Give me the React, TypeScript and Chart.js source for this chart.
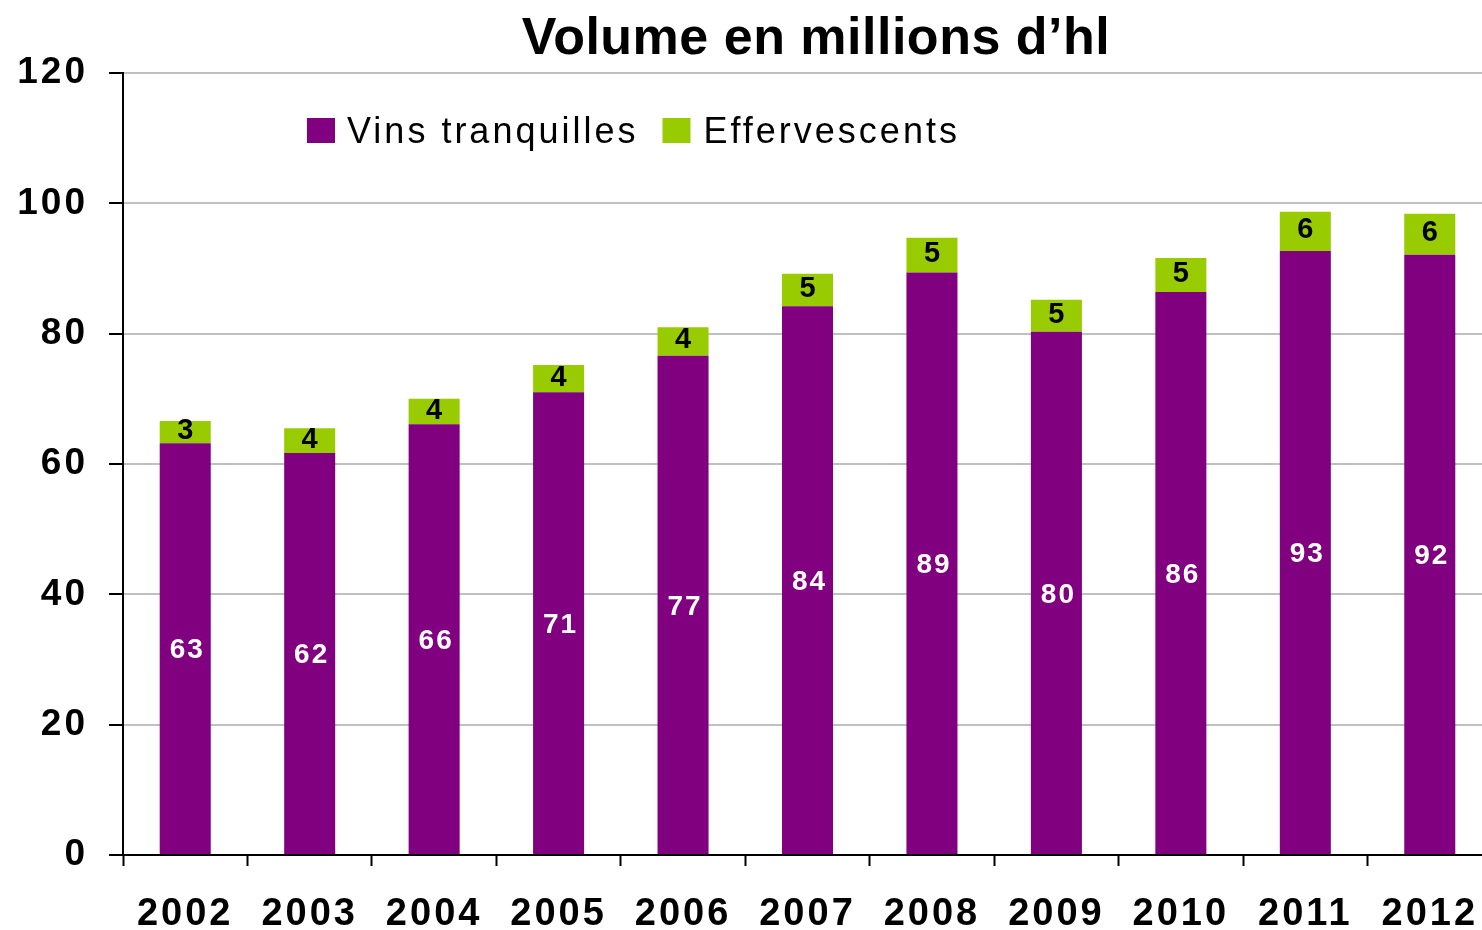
import React, { useEffect, useRef } from "react";
import { Chart, registerables } from "chart.js";

Chart.register(...registerables);

const categories = ["2002", "2003", "2004", "2005", "2006", "2007", "2008", "2009", "2010", "2011", "2012"];
const vinsTranquilles = [63.2, 61.7, 66.1, 71.0, 76.6, 84.2, 89.4, 80.3, 86.4, 92.7, 92.1];
const effervescents = [3.4, 3.8, 3.9, 4.2, 4.4, 5.0, 5.3, 4.9, 5.2, 6.0, 6.3];
const seriesNames = ["Vins tranquilles", "Effervescents"];
const titleText = "Volume en millions d\u2019hl";
const yTicks = [0, 20, 40, 60, 80, 100, 120];

const PURPLE = "#800080";
const GREEN = "#99CC00";
const FAMILY = '"Liberation Sans", Arial, sans-serif';

const spacingPlugin = {
  id: "spacing",
  beforeDraw(chart: any) {
    const ctx = chart.ctx;
    ctx.letterSpacing = "3px";
  },
};

const decorPlugin = {
  id: "decor",
  afterDraw(chart: any) {
    const ctx = chart.ctx;
    ctx.save();
    // title
    ctx.letterSpacing = "0.5px";
    ctx.font = `bold 52px ${FAMILY}`;
    ctx.fillStyle = "#000";
    ctx.textAlign = "center";
    ctx.textBaseline = "alphabetic";
    ctx.fillText(titleText, 816, 54);

    // legend
    ctx.letterSpacing = "3px";
    ctx.font = `36px ${FAMILY}`;
    ctx.textAlign = "left";
    const colors = [PURPLE, GREEN];
    let x = 307;
    seriesNames.forEach((name, i) => {
      ctx.fillStyle = colors[i];
      ctx.fillRect(x, 118, 28, 25);
      ctx.fillStyle = "#000";
      const tx = x + (i === 0 ? 40 : 41);
      ctx.fillText(name, tx, 143);
      const w = ctx.measureText(name).width;
      x = tx + w + 24;
    });

    // data labels
    chart.data.datasets.forEach((ds: any, di: number) => {
      const meta = chart.getDatasetMeta(di);
      meta.data.forEach((bar: any, i: number) => {
        const v = ds.data[i];
        const top = Math.min(bar.y, bar.base);
        const bottom = Math.max(bar.y, bar.base);
        const cy = (top + bottom) / 2;
        ctx.textAlign = "center";
        ctx.textBaseline = "middle";
        if (di === 0) {
          ctx.letterSpacing = "2px";
          ctx.font = `bold 28px ${FAMILY}`;
          ctx.fillStyle = "#fff";
          ctx.fillText(String(Math.round(v)), bar.x + 2, cy + 2);
        } else {
          ctx.letterSpacing = "0px";
          ctx.font = `bold 29px ${FAMILY}`;
          ctx.fillStyle = "#000";
          ctx.fillText(String(Math.round(v)), bar.x, cy - 1);
        }
      });
    });
    ctx.restore();
  },
};

export default function App() {
  const ref = useRef<HTMLCanvasElement>(null);
  useEffect(() => {
    if (!ref.current) return;
    const chart = new Chart(ref.current, {
      type: "bar",
      data: {
        labels: categories,
        datasets: [
          { label: seriesNames[0], data: vinsTranquilles, backgroundColor: PURPLE, borderWidth: 0, barPercentage: 0.41, categoryPercentage: 1 },
          { label: seriesNames[1], data: effervescents, backgroundColor: GREEN, borderWidth: 0, barPercentage: 0.41, categoryPercentage: 1 },
        ],
      },
      options: {
        responsive: false,
        animation: false,
        devicePixelRatio: 1,
        layout: { padding: { top: 73, left: 0, right: 8, bottom: 0 } },
        plugins: { legend: { display: false }, title: { display: false }, tooltip: { enabled: false } },
        scales: {
          x: {
            stacked: true,
            offset: true,
            grid: { offset: true, drawOnChartArea: false, drawTicks: true, tickLength: 11, tickColor: "#000", tickWidth: 2 },
            border: { display: true, color: "#000", width: 2 },
            ticks: { color: "#000", font: { family: FAMILY, size: 38, weight: "bold" }, padding: 26, maxRotation: 0, autoSkip: false },
            afterFit: (s: any) => { s.height = 75; },
          },
          y: {
            stacked: true,
            min: 0,
            max: 120,
            afterBuildTicks: (s: any) => { s.ticks = yTicks.map((v) => ({ value: v })); },
            grid: { color: "#c0c0c0", lineWidth: 2, tickColor: "#000", tickWidth: 2, tickLength: 14, drawTicks: true },
            border: { display: true, color: "#000", width: 2 },
            ticks: { color: "#000", font: { family: FAMILY, size: 37, weight: "bold" }, padding: 21 },
            afterFit: (s: any) => { s.width = 123; },
          },
        },
      },
      plugins: [spacingPlugin, decorPlugin],
    } as any);
    return () => chart.destroy();
  }, []);
  return (
    <div style={{ position: "fixed", left: 0, top: 0, width: 1482, height: 930, overflow: "hidden", background: "#fff" }}>
      <canvas ref={ref} width={1500} height={930} style={{ display: "block", width: 1500, height: 930 }} />
    </div>
  );
}
